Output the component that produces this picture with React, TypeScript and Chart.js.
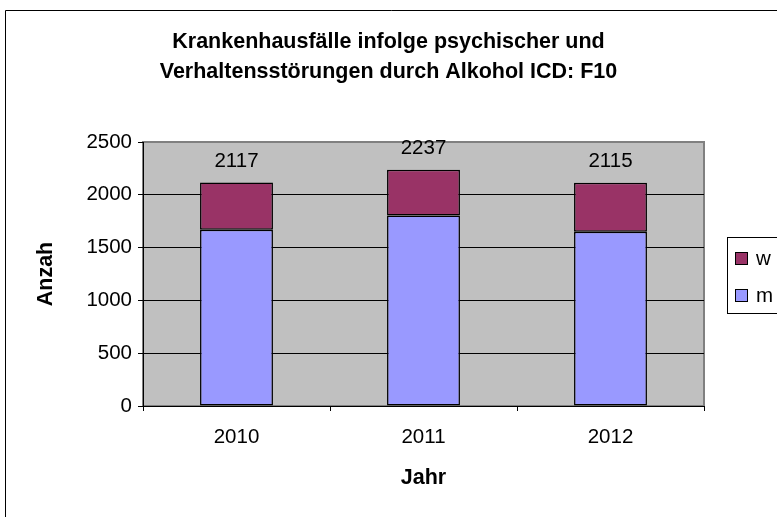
import React, { useEffect, useRef } from "react";
import { Chart, registerables } from "chart.js";

Chart.register(...registerables);

const years = ["2010", "2011", "2012"];
const maleValues = [1670, 1805, 1650];
const femaleValues = [447, 432, 465];
const totalLabels = ["2117", "2237", "2115"];
const titleLines = ["Krankenhausfälle infolge psychischer und", "Verhaltensstörungen durch Alkohol ICD: F10"];
const yTitle = "Anzah";
const xTitle = "Jahr";

const FONT = "'Liberation Sans', Arial, sans-serif";
const REG = 20.5;
const BOLD = 21.5;

const frame = {
  id: "frame",
  beforeDraw(chart: any) {
    const { ctx, chartArea: a } = chart;
    ctx.save();
    ctx.fillStyle = "#fff";
    ctx.fillRect(0, 0, chart.width, chart.height);
    ctx.strokeStyle = "#000";
    ctx.lineWidth = 1;
    ctx.beginPath();
    ctx.moveTo(5.5, chart.height + 5);
    ctx.lineTo(5.5, 10.5);
    ctx.lineTo(chart.width + 5, 10.5);
    ctx.stroke();
    ctx.fillStyle = "#C0C0C0";
    ctx.fillRect(a.left, a.top, a.right - a.left, a.bottom - a.top);
    ctx.strokeStyle = "#808080";
    ctx.lineWidth = 2;
    ctx.strokeRect(a.left, a.top, a.right - a.left, a.bottom - a.top);
    ctx.restore();
  },
  afterDatasetsDraw(chart: any) {
    const { ctx } = chart;
    const n = chart.data.datasets.length;
    const meta = chart.getDatasetMeta(n - 1);
    ctx.save();
    ctx.font = `${REG}px ${FONT}`;
    ctx.fillStyle = "#000";
    ctx.textAlign = "center";
    ctx.textBaseline = "middle";
    meta.data.forEach((el: any, i: number) => {
      ctx.fillText(totalLabels[i], el.x, el.y - 21);
    });
    ctx.restore();
  },
  afterDraw(chart: any) {
    const { ctx } = chart;
    ctx.save();
    ctx.strokeStyle = "#000";
    ctx.lineWidth = 1;
    ctx.strokeRect(727.5, 237.5, 100, 76);
    ctx.font = `${REG}px ${FONT}`;
    ctx.textBaseline = "middle";
    ctx.textAlign = "left";
    const ds = chart.data.datasets.filter((d: any) => d.label).slice().reverse();
    ds.forEach((d: any, i: number) => {
      const cy = 258 + i * 37;
      ctx.fillStyle = d.backgroundColor;
      ctx.fillRect(735, cy - 6, 13, 13);
      ctx.strokeStyle = "#000";
      ctx.strokeRect(735.5, cy - 5.5, 12, 12);
      ctx.fillStyle = "#000";
      ctx.fillText(d.label, 756, cy + 1);
    });
    ctx.restore();
  },
};

export default function App() {
  const ref = useRef<HTMLCanvasElement>(null);
  useEffect(() => {
    const chart = new Chart(ref.current!, {
      type: "bar",
      data: {
        labels: years,
        datasets: [
          {
            label: "m",
            data: maleValues,
            backgroundColor: "#9999FF",
            borderColor: "#000",
            borderWidth: 1.5,
            borderSkipped: false,
          },
          {
            label: "w",
            data: femaleValues,
            backgroundColor: "#993366",
            borderColor: "#000",
            borderWidth: 1.5,
            borderSkipped: false,
          },
        ],
      },
      options: {
        responsive: false,
        animation: false,
        devicePixelRatio: 1,
        datasets: { bar: { categoryPercentage: 1, barPercentage: 0.39 } },
        layout: { padding: 0 },
        plugins: {
          legend: { display: false },
          tooltip: { enabled: false },
          title: {
            display: true,
            text: titleLines,
            color: "#000",
            font: { family: FONT, size: BOLD, weight: "bold", lineHeight: 30 / BOLD },
            padding: { top: 27, bottom: 55 },
          },
        },
        scales: {
          x: {
            stacked: true,
            afterFit: (s: any) => {
              s.height = 111;
            },
            grid: {
              offset: true,
              drawOnChartArea: false,
              tickLength: 5,
              color: "#000",
              tickColor: "#000",
            },
            border: { display: true, color: "#000" },
            ticks: { color: "#000", font: { family: FONT, size: REG }, padding: 14 },
            title: {
              display: true,
              text: xTitle,
              color: "#000",
              font: { family: FONT, size: BOLD, weight: "bold" },
              padding: { top: 0, bottom: 26 },
            },
          },
          y: {
            stacked: true,
            min: 0,
            max: 2500,
            afterFit: (s: any) => {
              s.width = 143;
            },
            grid: {
              color: (c: any) => (c.tick && c.tick.value === 2500 ? "rgba(0,0,0,0)" : "#000"),
              tickColor: "#000",
              tickLength: 5,
              lineWidth: 1,
            },
            border: { display: true, color: "#000" },
            ticks: {
              stepSize: 500,
              color: "#000",
              font: { family: FONT, size: REG },
              padding: 6,
              callback: (v: any) => String(v),
            },
            title: {
              display: true,
              text: yTitle,
              color: "#000",
              font: { family: FONT, size: BOLD, weight: "bold" },
              padding: { top: 33, bottom: 0 },
            },
          },
          yRight: {
            position: "right",
            min: 0,
            max: 2500,
            afterFit: (s: any) => {
              s.width = 73;
            },
            grid: { display: false, drawTicks: false },
            ticks: { display: false },
            border: { display: false },
          },
        },
      },
      plugins: [frame],
    });
    return () => chart.destroy();
  }, []);
  return (
    <div style={{ position: "absolute", left: 0, top: 0, width: 777, height: 517, overflow: "hidden" }}>
      <canvas ref={ref} width={777} height={517} style={{ display: "block" }} />
    </div>
  );
}
